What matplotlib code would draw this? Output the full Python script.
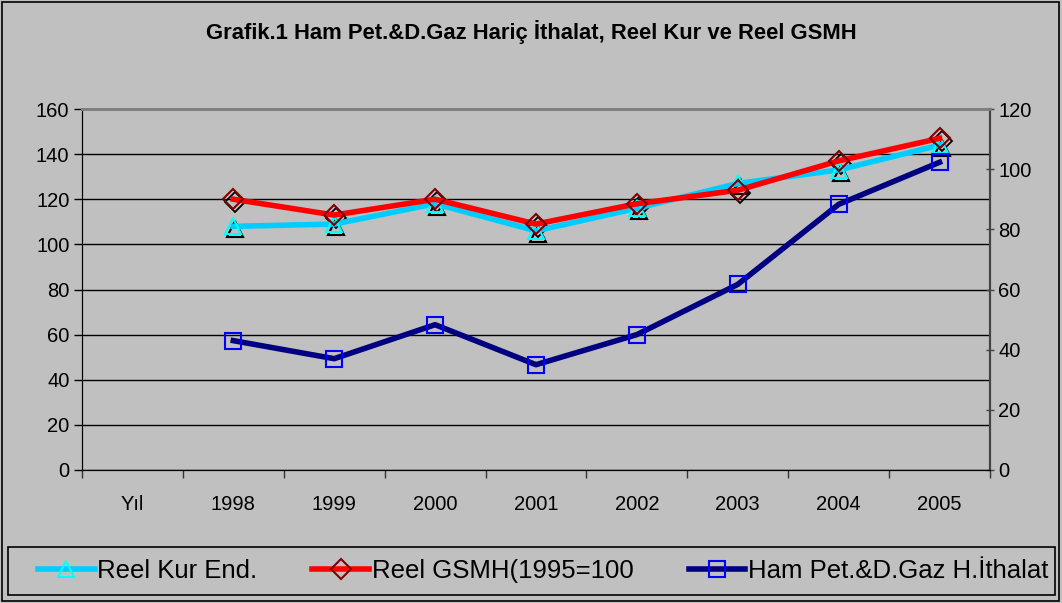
import matplotlib.pyplot as plt
import matplotlib.transforms as mtransforms
from matplotlib.patches import Rectangle

plt.rcParams['font.family'] = ['Liberation Sans', 'DejaVu Sans']

categories = ['Yıl', '1998', '1999', '2000', '2001', '2002', '2003', '2004', '2005']
years = categories[1:]
reel_kur = [108, 109, 118, 106, 116, 127, 133, 144]
reel_gsmh = [120, 113, 120, 109, 118, 124, 137, 147]
ham_pet = [43, 37, 48.3, 35, 45, 61.7, 88.3, 102.3]

title = 'Grafik.1 Ham Pet.&D.Gaz Hariç İthalat, Reel Kur ve Reel GSMH'
labels = ['Reel Kur End.', 'Reel GSMH(1995=100', 'Ham Pet.&D.Gaz H.İthalat']

bg = '#C0C0C0'
fig = plt.figure(figsize=(10.62, 6.03), dpi=100, facecolor=bg)
fig.patches.append(Rectangle((0.002, 0.003), 0.995, 0.994, transform=fig.transFigure,
                             fill=False, edgecolor='black', linewidth=1.2))
# legend box
fig.patches.append(Rectangle((8 / 1062, 8 / 603), 1047 / 1062, 48 / 603,
                             transform=fig.transFigure, fill=False,
                             edgecolor='black', linewidth=1.2))

ax = fig.add_axes([0.0772, 0.2206, 0.855, 0.5986], facecolor=bg)
ax2 = ax.twinx()

x = list(range(1, len(categories)))

# black shadow markers, slightly offset like the original
shadow = mtransforms.offset_copy(ax.transData, fig=fig, x=2, y=-3, units='dots')
ax.plot(x, reel_kur, linestyle='none', marker='^', ms=12, mfc='none', mec='black',
        mew=1.5, transform=shadow)
ax.plot(x, reel_gsmh, linestyle='none', marker='D', ms=10, mfc='none', mec='black',
        mew=1.3, transform=shadow)

l1, = ax.plot(x, reel_kur, color='#00CCFF', lw=4, marker='^', ms=12, mfc='none',
              mec='#00FFFF', mew=1.5, label=labels[0])
l2, = ax.plot(x, reel_gsmh, color='#FF0000', lw=4, marker='D', ms=10, mfc='none',
              mec='#800000', mew=1.5, label=labels[1])
l3, = ax2.plot(x, ham_pet, color='#000080', lw=4, marker='s', ms=12, mfc='none',
               mec='#0000FF', mew=1.5, label=labels[2])

ax.set_xlim(-0.5, len(categories) - 0.5)
ax.set_ylim(0, 160)
ax2.set_ylim(0, 120)
ax.set_yticks(range(0, 161, 20))
ax2.set_yticks(range(0, 121, 20))

ax.set_xticks([i + 0.5 for i in range(-1, len(categories))])
ax.set_xticklabels([])
ax.set_xticks(range(len(categories)), minor=True)
ax.set_xticklabels(categories, minor=True)
ax.tick_params(axis='x', which='major', length=6, width=1, direction='out', color='#333333')
ax.tick_params(axis='x', which='minor', length=0, pad=18, labelsize=14.5)
ax.tick_params(axis='y', length=6, width=1, direction='out', labelsize=14.5, pad=3)
ax2.tick_params(axis='y', length=6, width=1, direction='inout', labelsize=14.5, pad=3, color='#444444')

ax.grid(axis='y', color='black', linewidth=1)
ax.set_axisbelow(True)
for a in (ax, ax2):
    a.spines['top'].set_color('#808080')
    a.spines['top'].set_linewidth(2)
    a.spines['left'].set_color('black')
    a.spines['bottom'].set_color('black')
    a.spines['right'].set_color('#444444')
    a.spines['right'].set_linewidth(1.5)

fig.text(0.5, 0.947, title, ha='center', va='center', fontsize=15.8, fontweight='bold')

leg = fig.legend(handles=[l1, l2, l3], labels=labels, loc='center left', ncol=3,
                 bbox_to_anchor=(38 / 1062, 8 / 603, 1010 / 1062, 48 / 603), mode='expand',
                 fontsize=18.5, frameon=False, handlelength=2.2, handletextpad=0.1,
                 columnspacing=1.6, borderpad=0, borderaxespad=0)

fig.savefig('out.png', dpi=100, facecolor=bg)
